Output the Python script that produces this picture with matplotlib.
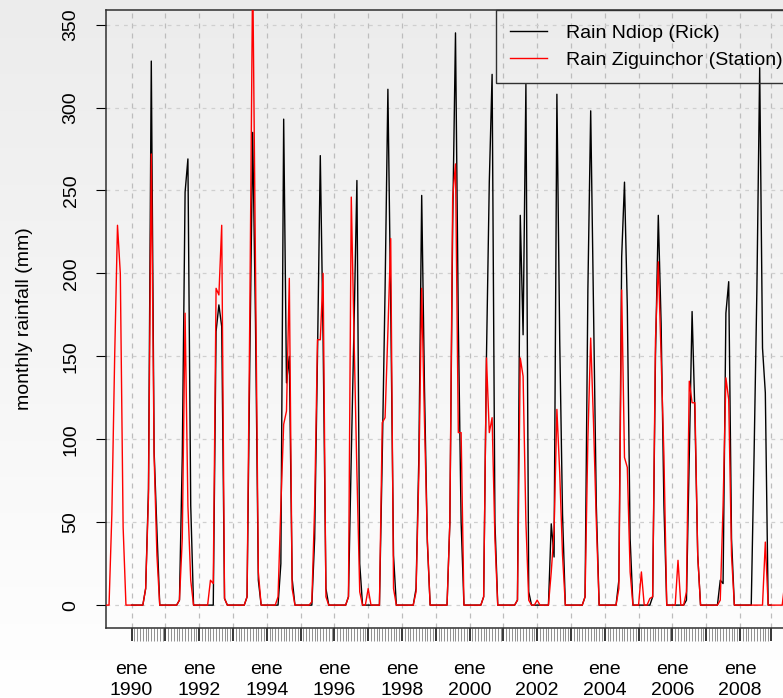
import numpy as np
import matplotlib
matplotlib.use("Agg")
import matplotlib.pyplot as plt
from matplotlib.ticker import FixedLocator, FuncFormatter

plt.rcParams['font.family'] = ['Liberation Sans', 'DejaVu Sans']

# ---------------- data (monthly rainfall, mm) ----------------
rick_start_year = 1990          # Rain Ndiop (Rick): Jan 1990 - Dec 2008
station_start_year = 1989       # Rain Ziguinchor (Station): Jan 1989 - Dec 2009

rick_mm = [
    # Jan..Dec
    0, 0, 0, 0, 0, 10, 70, 328, 93, 45, 0, 0,        # 1990
    0, 0, 0, 0, 0, 3, 90, 249, 269, 60, 0, 0,        # 1991
    0, 0, 0, 0, 0, 0, 165, 181, 168, 4, 0, 0,        # 1992
    0, 0, 0, 0, 0, 5, 150, 285, 170, 15, 0, 0,       # 1993
    0, 0, 0, 0, 0, 25, 293, 134, 150, 16, 0, 0,      # 1994
    0, 0, 0, 0, 0, 40, 150, 271, 160, 10, 0, 0,      # 1995
    0, 0, 0, 0, 0, 5, 90, 170, 256, 25, 0, 0,        # 1996
    0, 0, 0, 0, 0, 90, 190, 311, 180, 30, 0, 0,      # 1997
    0, 0, 0, 0, 0, 10, 90, 247, 130, 38, 0, 0,       # 1998
    0, 0, 0, 0, 0, 50, 230, 345, 170, 50, 0, 0,      # 1999
    0, 0, 0, 0, 0, 5, 150, 255, 320, 50, 0, 0,       # 2000
    0, 0, 0, 0, 0, 3, 235, 163, 314, 8, 0, 0,        # 2001
    0, 0, 0, 0, 0, 49, 29, 308, 160, 55, 0, 0,       # 2002
    0, 0, 0, 0, 0, 5, 190, 298, 180, 60, 0, 0,       # 2003
    0, 0, 0, 0, 0, 15, 210, 255, 180, 40, 0, 0,      # 2004
    0, 0, 0, 0, 0, 5, 150, 235, 170, 60, 0, 0,       # 2005
    0, 0, 0, 0, 0, 3, 90, 177, 115, 30, 0, 0,        # 2006
    0, 0, 0, 0, 0, 15, 13, 176, 195, 40, 0, 0,       # 2007
    0, 0, 0, 0, 0, 90, 190, 324, 155, 128, 0, 0,     # 2008
]

station_mm = [
    0, 0, 0, 0, 0, 55, 150, 229, 200, 47, 0, 0,      # 1989
    0, 0, 0, 0, 0, 10, 65, 272, 90, 30, 0, 0,        # 1990
    0, 0, 0, 0, 0, 3, 40, 176, 60, 15, 0, 0,         # 1991
    0, 0, 0, 0, 15, 13, 191, 187, 229, 4, 0, 0,      # 1992
    0, 0, 0, 0, 0, 5, 180, 385, 200, 20, 0, 0,       # 1993
    0, 0, 0, 0, 5, 60, 109, 117, 197, 10, 0, 0,      # 1994
    0, 0, 0, 0, 2, 60, 160, 160, 200, 5, 0, 0,       # 1995
    0, 0, 0, 0, 0, 5, 246, 160, 80, 8, 0, 0,         # 1996
    10, 0, 0, 0, 0, 110, 113, 165, 221, 10, 0, 0,    # 1997
    0, 0, 0, 0, 0, 8, 80, 191, 110, 40, 0, 0,        # 1998
    0, 0, 0, 0, 0, 50, 246, 266, 104, 104, 0, 0,     # 1999
    0, 0, 0, 0, 0, 5, 149, 104, 113, 40, 0, 0,       # 2000
    0, 0, 0, 0, 0, 3, 149, 138, 50, 3, 0, 0,         # 2001
    3, 0, 0, 0, 0, 20, 45, 118, 80, 30, 0, 0,        # 2002
    0, 0, 0, 0, 0, 5, 100, 161, 110, 50, 0, 0,       # 2003
    0, 0, 0, 0, 0, 10, 190, 89, 83, 20, 0, 0,        # 2004
    0, 20, 0, 0, 4, 5, 160, 207, 150, 90, 0, 0,      # 2005
    0, 0, 27, 0, 0, 8, 135, 122, 122, 30, 0, 0,      # 2006
    0, 0, 0, 0, 0, 3, 60, 137, 124, 30, 0, 0,        # 2007
    0, 0, 0, 0, 0, 0, 0, 0, 0, 38, 0, 0,             # 2008
    0, 0, 0, 0, 15, 100, 200, 280, 200, 50, 0, 0,    # 2009
]

series_labels = ["Rain Ndiop (Rick)", "Rain Ziguinchor (Station)"]
series_colors = ["black", "red"]
month_label = "ene"
y_label = "monthly rainfall (mm)"
y_ticks = [0, 50, 100, 150, 200, 250, 300, 350]

# ---------------- time axes ----------------
t_rick = rick_start_year + np.arange(len(rick_mm)) / 12.0
t_station = station_start_year + np.arange(len(station_mm)) / 12.0

# R-style 4% range extension, based on the first (plotted) series
xr = t_rick[-1] - t_rick[0]
xlim = (t_rick[0] - 0.04 * xr, t_rick[-1] + 0.04 * xr)
yr = max(rick_mm) - min(rick_mm)
ylim = (min(rick_mm) - 0.04 * yr, max(rick_mm) + 0.04 * yr)

# ---------------- figure ----------------
W, H = 783, 698
fig = plt.figure(figsize=(W / 100, H / 100), dpi=100)

# gradient background
bg = fig.add_axes([0, 0, 1, 1], zorder=-10)
grad = np.linspace(0, 1, 256).reshape(-1, 1)
top_c = np.array([236, 236, 236]) / 255.0
bot_c = np.array([255, 255, 255]) / 255.0
img = top_c[None, None, :] * (1 - grad[:, :, None]) + bot_c[None, None, :] * grad[:, :, None]
bg.imshow(img, aspect='auto', extent=[0, 1, 0, 1])
bg.set_axis_off()

left_px, top_px, bottom_px = 106, 10, 628
px_per_year = 33.8
width_px = (xlim[1] - xlim[0]) * px_per_year
ax = fig.add_axes([left_px / W, (H - bottom_px) / H, width_px / W, (bottom_px - top_px) / H])
ax.set_facecolor('none')

ax.plot(t_rick, rick_mm, color=series_colors[0], lw=1.0, label=series_labels[0], zorder=3)
ax.plot(t_station, station_mm, color=series_colors[1], lw=1.0, label=series_labels[1], zorder=4)

ax.set_xlim(xlim)
ax.set_ylim(ylim)

# x ticks: major at each January + last date, minor monthly
jan_positions = [t for t in t_rick if abs(t - round(t)) < 1e-9]
major_pos = jan_positions + [t_rick[-1]]
ax.xaxis.set_major_locator(FixedLocator(major_pos))
ax.xaxis.set_minor_locator(FixedLocator(list(t_rick)))

def xfmt(v, pos):
    if abs(v - round(v)) < 1e-9 and int(round(v)) % 2 == 0:
        return f"{month_label}\n{int(round(v))}"
    return ""
ax.xaxis.set_major_formatter(FuncFormatter(xfmt))

ax.tick_params(axis='x', which='major', length=9.5, width=1.1, color='black',
               labelsize=14, pad=14)
ax.tick_params(axis='x', which='minor', length=9.0, width=0.5, color='#666666')
for lab in ax.get_xticklabels():
    lab.set_linespacing(1.32)

ax.set_yticks(y_ticks)
ax.tick_params(axis='y', which='major', length=7, width=0.8, labelsize=14, pad=12,
               labelrotation=90)
for lab in ax.get_yticklabels():
    lab.set_va('center')

# grid
ax.grid(axis='x', which='major', color='#bdbdbd', lw=0.9, ls=(0, (4, 4)), zorder=0)
ax.grid(axis='y', which='major', color='#cfcfcf', lw=0.9, ls=(0, (3, 4)), zorder=0)
ax.set_axisbelow(True)

for side in ['left', 'top', 'bottom']:
    ax.spines[side].set_color('#303030')
    ax.spines[side].set_linewidth(1.1)
ax.spines['right'].set_visible(False)

fig.text(25 / W, 1 - ((top_px + bottom_px) / 2) / H, y_label, rotation=90,
         ha='center', va='center', fontsize=14)

leg = ax.legend(loc='upper right', bbox_to_anchor=(1, 1), borderaxespad=0,
                fontsize=14, frameon=True, fancybox=False, framealpha=1,
                handlelength=1.9, handletextpad=0.95, borderpad=0.74,
                labelspacing=0.46)
leg.get_frame().set_facecolor('none')
leg.get_frame().set_edgecolor('#303030')
leg.get_frame().set_linewidth(1.0)

fig.savefig("out.png", dpi=100)
